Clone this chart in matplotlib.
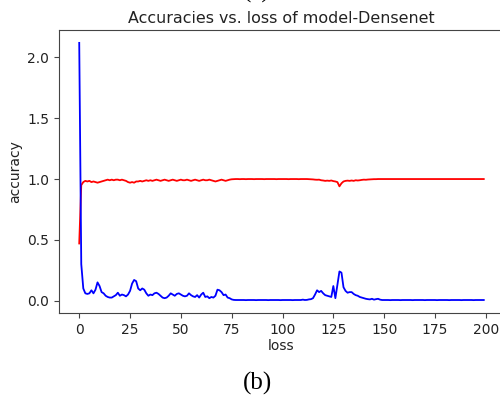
import matplotlib
matplotlib.use("Agg")
import matplotlib.pyplot as plt

# per-epoch values
red_vals = [
    0.47, 0.95, 0.975, 0.985, 0.98, 0.985, 0.975, 0.98, 0.975, 0.97,
    0.975, 0.98, 0.985, 0.99, 0.995, 0.99, 0.995, 0.99, 0.995, 0.995,
    0.99, 0.995, 0.99, 0.985, 0.975, 0.97, 0.975, 0.97, 0.98, 0.98,
    0.985, 0.98, 0.985, 0.99, 0.985, 0.99, 0.985, 0.99, 0.995, 0.99,
    0.985, 0.99, 0.995, 0.99, 0.985, 0.99, 0.995, 0.99, 0.985, 0.99,
    0.995, 0.99, 0.99, 0.995, 0.99, 0.985, 0.99, 0.995, 0.99, 0.985,
    0.99, 0.995, 0.99, 0.99, 0.995, 0.99, 0.985, 0.98, 0.985, 0.99,
    0.995, 0.99, 0.985, 0.99, 0.995, 0.998, 0.999, 1.0, 1.0, 0.999,
    1.0, 1.0, 0.999, 1.0, 1.0, 1.0, 0.999, 1.0, 1.0, 1.0,
    1.0, 0.999, 1.0, 1.0, 1.0, 1.0, 1.0, 0.999, 1.0, 1.0,
    1.0, 1.0, 1.0, 0.999, 1.0, 1.0, 1.0, 1.0, 0.999, 1.0,
    1.0, 1.0, 1.0, 0.999, 0.998, 0.997, 0.995, 0.994, 0.995, 0.99,
    0.988, 0.985, 0.987, 0.985, 0.988, 0.983, 0.98, 0.975, 0.94, 0.965,
    0.98, 0.985, 0.987, 0.985, 0.988, 0.985, 0.99, 0.988, 0.99, 0.993,
    0.995, 0.994, 0.996, 0.997, 0.998, 0.999, 0.999, 1.0, 1.0, 1.0,
    1.0, 1.0, 1.0, 1.0, 1.0, 1.0, 1.0, 1.0, 1.0, 1.0,
    1.0, 1.0, 1.0, 1.0, 1.0, 1.0, 1.0, 1.0, 1.0, 1.0,
    1.0, 1.0, 1.0, 1.0, 1.0, 1.0, 1.0, 1.0, 1.0, 1.0,
    1.0, 1.0, 1.0, 1.0, 1.0, 1.0, 1.0, 1.0, 1.0, 1.0,
    1.0, 1.0, 1.0, 1.0, 1.0, 1.0, 1.0, 1.0, 1.0, 1.0,
]

blue_vals = [
    2.12, 0.30, 0.10, 0.06, 0.055, 0.06, 0.085, 0.06, 0.09, 0.15,
    0.12, 0.07, 0.06, 0.04, 0.03, 0.025, 0.025, 0.035, 0.045, 0.065,
    0.04, 0.05, 0.045, 0.035, 0.05, 0.08, 0.14, 0.17, 0.16, 0.10,
    0.085, 0.10, 0.09, 0.06, 0.04, 0.05, 0.045, 0.06, 0.065, 0.055,
    0.04, 0.025, 0.02, 0.025, 0.04, 0.06, 0.05, 0.04, 0.055, 0.06,
    0.05, 0.04, 0.035, 0.04, 0.06, 0.045, 0.035, 0.03, 0.045, 0.025,
    0.05, 0.065, 0.03, 0.035, 0.02, 0.03, 0.025, 0.04, 0.09, 0.085,
    0.07, 0.045, 0.05, 0.025, 0.02, 0.01, 0.006, 0.005, 0.005, 0.005,
    0.005, 0.005, 0.004, 0.005, 0.005, 0.005, 0.005, 0.004, 0.005, 0.005,
    0.005, 0.005, 0.005, 0.004, 0.005, 0.005, 0.005, 0.005, 0.005, 0.004,
    0.005, 0.005, 0.005, 0.005, 0.005, 0.004, 0.005, 0.005, 0.005, 0.005,
    0.008, 0.005, 0.006, 0.01, 0.012, 0.02, 0.05, 0.085, 0.07, 0.08,
    0.06, 0.045, 0.04, 0.035, 0.03, 0.12, 0.02, 0.13, 0.24, 0.23,
    0.11, 0.08, 0.065, 0.07, 0.07, 0.055, 0.045, 0.04, 0.03, 0.025,
    0.02, 0.015, 0.012, 0.01, 0.015, 0.008, 0.012, 0.015, 0.008, 0.005,
    0.005, 0.005, 0.005, 0.004, 0.005, 0.005, 0.005, 0.005, 0.004, 0.005,
    0.005, 0.005, 0.005, 0.005, 0.004, 0.005, 0.005, 0.005, 0.005, 0.005,
    0.004, 0.005, 0.005, 0.005, 0.005, 0.005, 0.004, 0.005, 0.005, 0.005,
    0.005, 0.005, 0.004, 0.005, 0.005, 0.005, 0.005, 0.005, 0.004, 0.005,
    0.005, 0.005, 0.005, 0.005, 0.004, 0.005, 0.005, 0.005, 0.005, 0.005,
]

epochs = list(range(len(red_vals)))


def main():
    fig = plt.figure(figsize=(5.0, 3.97), dpi=100)
    ax = fig.add_axes([0.118, 0.2116, 0.89, 0.7128])

    ax.plot(epochs, red_vals, color="red", lw=1.3)
    ax.plot(epochs, blue_vals, color="blue", lw=1.3)

    ax.set_title("Accuracies vs. loss of model-Densenet", fontsize=11.4,
                 pad=5, color="#222222")
    ax.set_xlabel("loss", fontsize=10, labelpad=2, color="#222222")
    ax.set_ylabel("accuracy", fontsize=10, color="#222222")
    ax.set_xticks([0, 25, 50, 75, 100, 125, 150, 175, 200])
    ax.set_yticks([0.0, 0.5, 1.0, 1.5, 2.0])
    ax.tick_params(labelsize=10, labelcolor="#222222", color="#444444")
    for sp in ax.spines.values():
        sp.set_color("#444444")

    # caption of the panel above, cut off at the top edge as in the source
    fig.text(0.514, 1.006, "(a)", family="Liberation Serif", fontsize=18,
             ha="center", va="baseline")
    fig.text(0.514, 0.033, "(b)", family="Liberation Serif", fontsize=18,
             ha="center", va="center")

    fig.savefig("out.png", dpi=100)


if __name__ == "__main__":
    main()
